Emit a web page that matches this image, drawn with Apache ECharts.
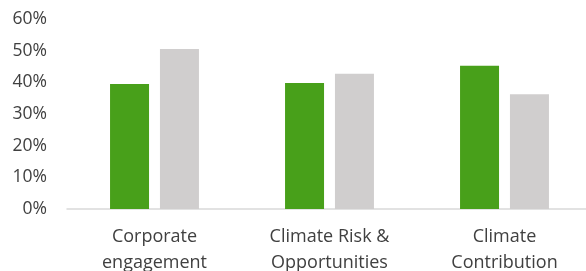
<!DOCTYPE html>
<html><head><meta charset="utf-8">
<script src="https://cdn.jsdelivr.net/npm/echarts@6/dist/echarts.min.js"></script>
<style>html,body{margin:0;padding:0;background:#fff}#c{width:586px;height:271px}</style>
</head><body><div id="c"></div>
<script>
const categories = ["Corporate\nengagement", "Climate Risk &\nOpportunities", "Climate\nContribution"];
const seriesGreen = [39.5, 39.8, 45.2];
const seriesGray = [50.5, 42.7, 36.2];
const yTicks = [0, 10, 20, 30, 40, 50, 60];

const chart = echarts.init(document.getElementById('c'), null, {renderer: 'canvas'});
const font = "'Open Sans', sans-serif";
chart.setOption({
  animation: false,
  grid: {left: 67, top: 19, width: 525, height: 190, containLabel: false, outerBoundsMode: 'none'},
  xAxis: {
    type: 'category', data: categories,
    axisLine: {lineStyle: {color: '#D9D9D9', width: 1.5}},
    axisTick: {show: false},
    axisLabel: {color: '#404040', fontSize: 18, fontFamily: font, lineHeight: 26, margin: 15, interval: 0}
  },
  yAxis: {
    type: 'value', min: yTicks[0], max: yTicks[yTicks.length-1], interval: 10,
    splitLine: {show: false}, axisLine: {show: false}, axisTick: {show: false},
    axisLabel: {color: '#404040', fontSize: 17.5, fontFamily: font, margin: 20, formatter: v => v + '%'}
  },
  series: [
    {type: 'bar', data: seriesGreen, barWidth: 39, barGap: '28%', itemStyle: {color: '#48A01A'}},
    {type: 'bar', data: seriesGray, barWidth: 39, itemStyle: {color: '#D0CECE'}}
  ]
});
</script></body></html>
